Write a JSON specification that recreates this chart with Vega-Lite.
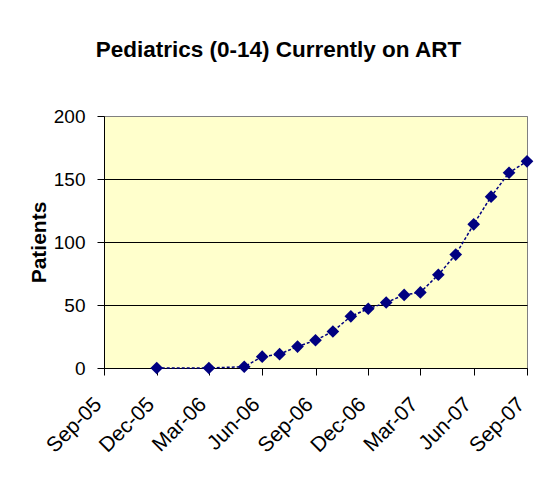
{
  "$schema": "https://vega.github.io/schema/vega-lite/v6.json",
  "width": 423,
  "height": 252,
  "autosize": "none",
  "padding": {"left": 104, "top": 116, "right": 8, "bottom": 119},
  "background": "white",
  "title": {
    "text": "Pediatrics (0-14) Currently on ART",
    "font": "Liberation Sans",
    "fontSize": 22.5,
    "fontWeight": "bold",
    "color": "black",
    "anchor": "middle",
    "dx": -37,
    "offset": 46
  },
  "config": {
    "view": {"fill": "#FFFFCC", "stroke": "#808080", "strokeWidth": 1}
  },
  "data": {
    "values": [
      {"date": "2005-12-01", "patients": 0},
      {"date": "2006-03-01", "patients": 0},
      {"date": "2006-05-01", "patients": 1},
      {"date": "2006-06-01", "patients": 9},
      {"date": "2006-07-01", "patients": 11},
      {"date": "2006-08-01", "patients": 17},
      {"date": "2006-09-01", "patients": 22},
      {"date": "2006-10-01", "patients": 29},
      {"date": "2006-11-01", "patients": 41},
      {"date": "2006-12-01", "patients": 47},
      {"date": "2007-01-01", "patients": 52},
      {"date": "2007-02-01", "patients": 58},
      {"date": "2007-03-01", "patients": 60},
      {"date": "2007-04-01", "patients": 74},
      {"date": "2007-05-01", "patients": 90},
      {"date": "2007-06-01", "patients": 114},
      {"date": "2007-07-01", "patients": 136},
      {"date": "2007-08-01", "patients": 155},
      {"date": "2007-09-01", "patients": 164}
    ],
    "format": {"parse": {"date": "utc:'%Y-%m-%d'"}}
  },
  "encoding": {
    "x": {
      "field": "date",
      "type": "temporal",
      "scale": {
        "type": "utc",
        "domain": [
          {"year": 2005, "month": 9, "date": 1, "utc": true},
          {"year": 2007, "month": 9, "date": 1, "utc": true}
        ]
      },
      "axis": {
        "title": null,
        "labelExpr": "utcFormat(datum.value, '%b-%y')",
        "values": [
          {"year": 2005, "month": 9, "date": 1, "utc": true},
          {"year": 2005, "month": 12, "date": 1, "utc": true},
          {"year": 2006, "month": 3, "date": 1, "utc": true},
          {"year": 2006, "month": 6, "date": 1, "utc": true},
          {"year": 2006, "month": 9, "date": 1, "utc": true},
          {"year": 2006, "month": 12, "date": 1, "utc": true},
          {"year": 2007, "month": 3, "date": 1, "utc": true},
          {"year": 2007, "month": 6, "date": 1, "utc": true},
          {"year": 2007, "month": 9, "date": 1, "utc": true}
        ],
        "labelAngle": -45,
        "labelAlign": "right",
        "labelBaseline": "middle",
        "labelFont": "Liberation Sans",
        "labelFontSize": 21,
        "labelColor": "black",
        "labelPadding": 26,
        "labelOffset": -6,
        "labelFlush": false,
        "labelOverlap": false,
        "labelBound": false,
        "tickSize": 7,
        "tickColor": "black",
        "domainColor": "black",
        "grid": false
      }
    },
    "y": {
      "field": "patients",
      "type": "quantitative",
      "scale": {"domain": [0, 200], "nice": false},
      "axis": {
        "title": "Patients",
        "titleFont": "Liberation Sans",
        "titleFontSize": 21,
        "titleFontWeight": "bold",
        "titleColor": "black",
        "titlePadding": 4,
        "values": [0, 50, 100, 150, 200],
        "labelFont": "Liberation Sans",
        "labelFontSize": 19,
        "labelColor": "black",
        "labelPadding": 12,
        "tickSize": 7,
        "tickColor": "black",
        "domainColor": "black",
        "grid": true,
        "gridColor": {"condition": {"test": "datum.value == 200", "value": "#808080"}, "value": "black"},
        "gridOpacity": 1,
        "gridWidth": 1
      }
    }
  },
  "layer": [
    {
      "mark": {"type": "line", "color": "#000080", "strokeWidth": 1.5, "strokeDash": [3, 2]}
    },
    {
      "mark": {"type": "point", "shape": "diamond", "filled": true, "color": "#000080", "size": 160, "opacity": 1}
    }
  ]
}
